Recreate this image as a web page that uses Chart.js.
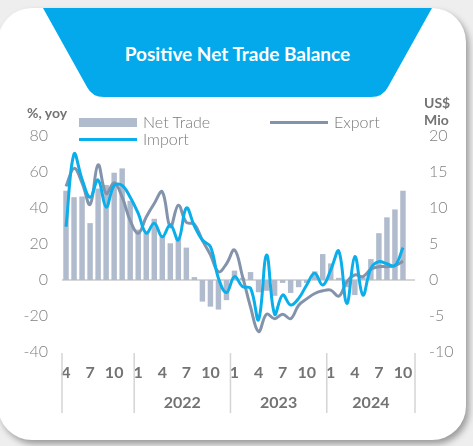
<!DOCTYPE html>
<html>
<head>
<meta charset="utf-8">
<script src="https://cdn.jsdelivr.net/npm/chart.js@4.4.1/dist/chart.umd.min.js"></script>
<style>
  html, body { margin: 0; padding: 0; }
  body {
    width: 473px; height: 446px; overflow: hidden; position: relative;
    background: #eeeeee; font-family: 'Lato', 'Open Sans', sans-serif;
  }
  #card {
    position: absolute; left: -2px; top: 8px; width: 468px; height: 432px;
    background: #fff; border-radius: 34px;
    box-shadow: 3px 4px 6px rgba(0, 0, 0, 0.35);
  }
  #header { position: absolute; left: 0; top: 0; }
  #title {
    position: absolute; left: 43px; width: 389px; top: 42px;
    text-align: center; color: #fff; font-weight: 700; font-size: 19px;
    line-height: 24px;
  }
  canvas { position: absolute; left: 0; top: 0; }
  .lbl { position: absolute; color: #7a7a7a; white-space: nowrap; }
  .axt { font-weight: 700; font-size: 14px; line-height: 14px; color: #737373; }
  .leg { font-weight: 300; font-size: 16px; line-height: 16px; }
  .sw { position: absolute; }
</style>
</head>
<body>
<div id="card"></div>
<svg id="header" width="473" height="110">
  <path d="M43,8 L432,8 L388,87 Q383,97 371,97 L104,97 Q92,97 87,87 Z" fill="#03a9eb"/>
</svg>
<div id="title">Positive Net Trade Balance</div>

<canvas id="tradeChart" width="473" height="446"></canvas>

<div class="lbl axt" style="left:27px; top:106px;">%, yoy</div>
<div class="lbl axt" style="left:424px; top:96px;">US$</div>
<div class="lbl axt" style="left:424px; top:113px;">Mio</div>

<div class="sw" style="left:79px; top:118px; width:58px; height:9px; background:#b0bbcd;"></div>
<div class="lbl leg" style="left:143px; top:114px;">Net Trade</div>
<div class="sw" style="left:270px; top:121px; width:58px; height:3px; background:#8293ab;"></div>
<div class="lbl leg" style="left:334px; top:114px;">Export</div>
<div class="sw" style="left:79px; top:138px; width:58px; height:3px; background:#0aaeea;"></div>
<div class="lbl leg" style="left:143px; top:131px;">Import</div>

<script>
// Months, Apr 2021 - Nov 2024 (last month has no data yet)
const categories = [
  '2021-04', '2021-05', '2021-06', '2021-07', '2021-08', '2021-09', '2021-10', '2021-11', '2021-12',
  '2022-01', '2022-02', '2022-03', '2022-04', '2022-05', '2022-06', '2022-07', '2022-08', '2022-09', '2022-10', '2022-11', '2022-12',
  '2023-01', '2023-02', '2023-03', '2023-04', '2023-05', '2023-06', '2023-07', '2023-08', '2023-09', '2023-10', '2023-11', '2023-12',
  '2024-01', '2024-02', '2024-03', '2024-04', '2024-05', '2024-06', '2024-07', '2024-08', '2024-09', '2024-10', '2024-11'
];

// Net trade, US$ Mio (right axis)
const netTrade = [
  12.4, 11.5, 11.6, 7.9, 12.7, 13.2, 14.9, 15.5, 11.0,
  7.0, 6.6, 8.5, 6.1, 5.1, 5.8, 4.5, 0.4, -3.0, -3.7, -4.1, -2.8,
  1.3, 0.3, 1.1, -1.7, -1.5, -2.2, -0.4, -1.8, -1.0, -0.4, 1.2, 3.6,
  2.3, 0.3, -1.0, -2.1, 0.4, 2.9, 6.5, 8.7, 9.8, 12.4, null
];

// Export, % yoy (left axis)
const exportYoy = [
  52, 62, 54, 42, 64, 48, 54, 46, 33,
  26, 35, 42.5, 49, 29.5, 41.5, 32, 31, 22, 14, 4.6, 9,
  16.7, 2, -15, -28.7, -19, -21.5, -19, -21.5, -14, -10.5, -7.5, -6,
  -5.6, -9, -1, 2.8, 1.9, 6, 7.4, 7.4, 8, 10.5, null
];

// Import, % yoy (left axis)
const importYoy = [
  29.6, 70, 56, 46, 55.6, 40.5, 52.5, 52.5, 46,
  37, 26, 31.5, 24, 30.7, 22.2, 40, 30, 22.2, 18.5, 1, -7,
  1.9, -3.7, -4.6, -22, 13.9, -19, -8.3, -13.9, -10.2, -2.8, 3.7, -2.8,
  5.6, 16, -13, 13, -8.3, 6.5, 10.2, 9, 8, 18, null
];

const monthTicks = [1, 4, 7, 10];
const yearTicks = ['2022', '2023', '2024'];

const textGrey = '#808080';

// Year separators and year labels under the month ticks
const yearAxisPlugin = {
  id: 'yearAxis',
  afterDraw(chart) {
    const xs = chart.scales.x;
    const ctx = chart.ctx;
    const bottom = chart.chartArea.bottom;
    const half = (xs.getPixelForTick(1) - xs.getPixelForTick(0)) / 2;

    // group boundaries
    const edges = [{ x: xs.left, year: categories[0].slice(0, 4) }];
    for (let i = 1; i < categories.length; i++) {
      if (categories[i].slice(0, 4) !== categories[i - 1].slice(0, 4)) {
        edges.push({ x: xs.getPixelForTick(i) - half, year: categories[i].slice(0, 4) });
      }
    }
    edges.push({ x: xs.right, year: null });

    ctx.save();
    ctx.strokeStyle = '#d4d4d4';
    ctx.lineWidth = 1.5;
    edges.forEach(e => {
      ctx.beginPath();
      ctx.moveTo(e.x, bottom + 1);
      ctx.lineTo(e.x, bottom + 61);
      ctx.stroke();
    });

    ctx.fillStyle = '#737373';
    ctx.font = "bold 16px 'Lato', sans-serif";
    ctx.textAlign = 'center';
    ctx.textBaseline = 'middle';
    for (let i = 0; i < edges.length - 1; i++) {
      if (yearTicks.includes(edges[i].year)) {
        ctx.fillText(edges[i].year, (edges[i].x + edges[i + 1].x) / 2, bottom + 51);
      }
    }
    ctx.restore();
  }
};

const ctx = document.getElementById('tradeChart').getContext('2d');

new Chart(ctx, {
  data: {
    labels: categories,
    datasets: [
      {
        type: 'line',
        label: 'Import',
        data: importYoy,
        yAxisID: 'y',
        borderColor: '#0aaeea',
        borderWidth: 3,
        pointRadius: 0,
        tension: 0.4,
        order: 1
      },
      {
        type: 'line',
        label: 'Export',
        data: exportYoy,
        yAxisID: 'y',
        borderColor: '#8293ab',
        borderWidth: 3,
        pointRadius: 0,
        tension: 0.4,
        order: 2
      },
      {
        type: 'bar',
        label: 'Net Trade',
        data: netTrade,
        yAxisID: 'y1',
        backgroundColor: '#b0bbcd',
        barPercentage: 0.68,
        categoryPercentage: 1,
        order: 3
      }
    ]
  },
  options: {
    responsive: false,
    animation: false,
    layout: { padding: { top: 136, left: 0, right: 0, bottom: 0 } },
    plugins: {
      legend: { display: false },
      tooltip: { enabled: false }
    },
    scales: {
      x: {
        type: 'category',
        offset: true,
        grid: { display: false, drawTicks: false },
        border: { display: false },
        ticks: {
          autoSkip: false,
          maxRotation: 0,
          padding: 11,
          color: '#737373',
          font: { family: "'Lato', sans-serif", weight: 'bold', size: 16 },
          callback: function(value, index) {
            const m = parseInt(categories[index].slice(5), 10);
            return monthTicks.includes(m) ? String(m) : '';
          }
        },
        afterFit: function(scale) { scale.height = 94; }
      },
      y: {
        position: 'left',
        min: -40,
        max: 80,
        ticks: {
          stepSize: 20,
          padding: 14,
          color: textGrey,
          font: { family: "'Lato', sans-serif", weight: 300, size: 16 }
        },
        grid: {
          drawTicks: false,
          lineWidth: 2,
          color: c => (c.tick && c.tick.value === 0) ? '#d6d6d6' : 'rgba(0,0,0,0)'
        },
        border: { display: false },
        afterFit: function(scale) { scale.width = 62; }
      },
      y1: {
        position: 'right',
        min: -10,
        max: 20,
        ticks: {
          stepSize: 5,
          padding: 14,
          color: textGrey,
          font: { family: "'Lato', sans-serif", weight: 300, size: 16 }
        },
        grid: { display: false, drawTicks: false },
        border: { display: false },
        afterFit: function(scale) { scale.width = 58; }
      }
    }
  },
  plugins: [yearAxisPlugin]
});
</script>
</body>
</html>
